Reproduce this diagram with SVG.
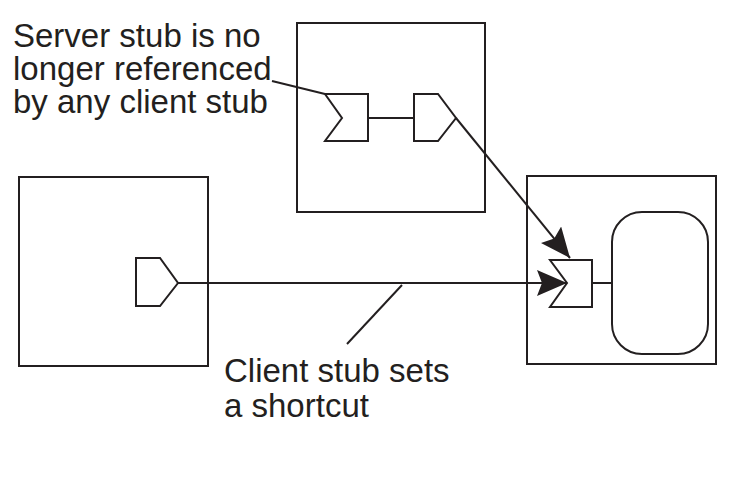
<svg xmlns="http://www.w3.org/2000/svg" width="738" height="479" viewBox="0 0 738 479">
  <style>
    .box { fill: #ffffff; stroke: #231f20; stroke-width: 2; }
    .stub { fill: #ffffff; stroke: #231f20; stroke-width: 2; stroke-linejoin: miter; }
    .ln { fill: none; stroke: #231f20; stroke-width: 2; }
    .lbl { font-family: "Liberation Sans", Arial, sans-serif; font-size: 33px; fill: #231f20; }
  </style>
  <defs>
    <marker id="arrow" viewBox="0 0 30 26" refX="30" refY="13" markerWidth="30" markerHeight="26" markerUnits="userSpaceOnUse" orient="auto">
      <path d="M0,0 L30,13 L0,26 L5,13 Z" fill="#231f20"/>
    </marker>
  </defs>
  <rect width="738" height="479" fill="#ffffff"/>

  <g id="server-process">
    <rect class="box" x="297" y="23" width="188" height="189"/>
    <polygon id="server-stub-old" class="stub" points="325,94 368,94 368,141 325,141 342,118"/>
    <polygon id="client-stub-mid" class="stub" points="414,94 438,94 456,118 438,141 414,141"/>
    <line class="ln" x1="368" y1="118" x2="414" y2="118"/>
  </g>

  <g id="client-process">
    <rect class="box" x="19" y="177" width="189" height="189"/>
    <polygon id="client-stub" class="stub" points="136,258 160,258 178,283 160,306 136,306"/>
  </g>

  <g id="object-process">
    <rect class="box" x="527" y="176" width="189" height="188"/>
    <polygon id="server-stub" class="stub" points="550,260 592,260 592,307 550,307 567,283"/>
    <line class="ln" x1="592" y1="283" x2="612" y2="283"/>
    <rect id="object" class="box" x="612" y="212" width="96" height="142" rx="30" ry="30"/>
  </g>

  <g id="connectors">
    <line class="ln" x1="456" y1="118" x2="570" y2="258" marker-end="url(#arrow)"/>
    <line class="ln" x1="178" y1="283" x2="567" y2="283" marker-end="url(#arrow)"/>
    <polyline class="ln" points="272,81 325,94"/>
    <line class="ln" x1="402" y1="285" x2="347" y2="344"/>
  </g>

  <g id="labels">
    <text class="lbl" x="13" y="47">Server stub is no</text>
    <text class="lbl" x="13" y="80">longer referenced</text>
    <text class="lbl" x="13" y="113">by any client stub</text>
    <text class="lbl" x="224" y="382">Client stub sets</text>
    <text class="lbl" x="224" y="417">a shortcut</text>
  </g>
</svg>
